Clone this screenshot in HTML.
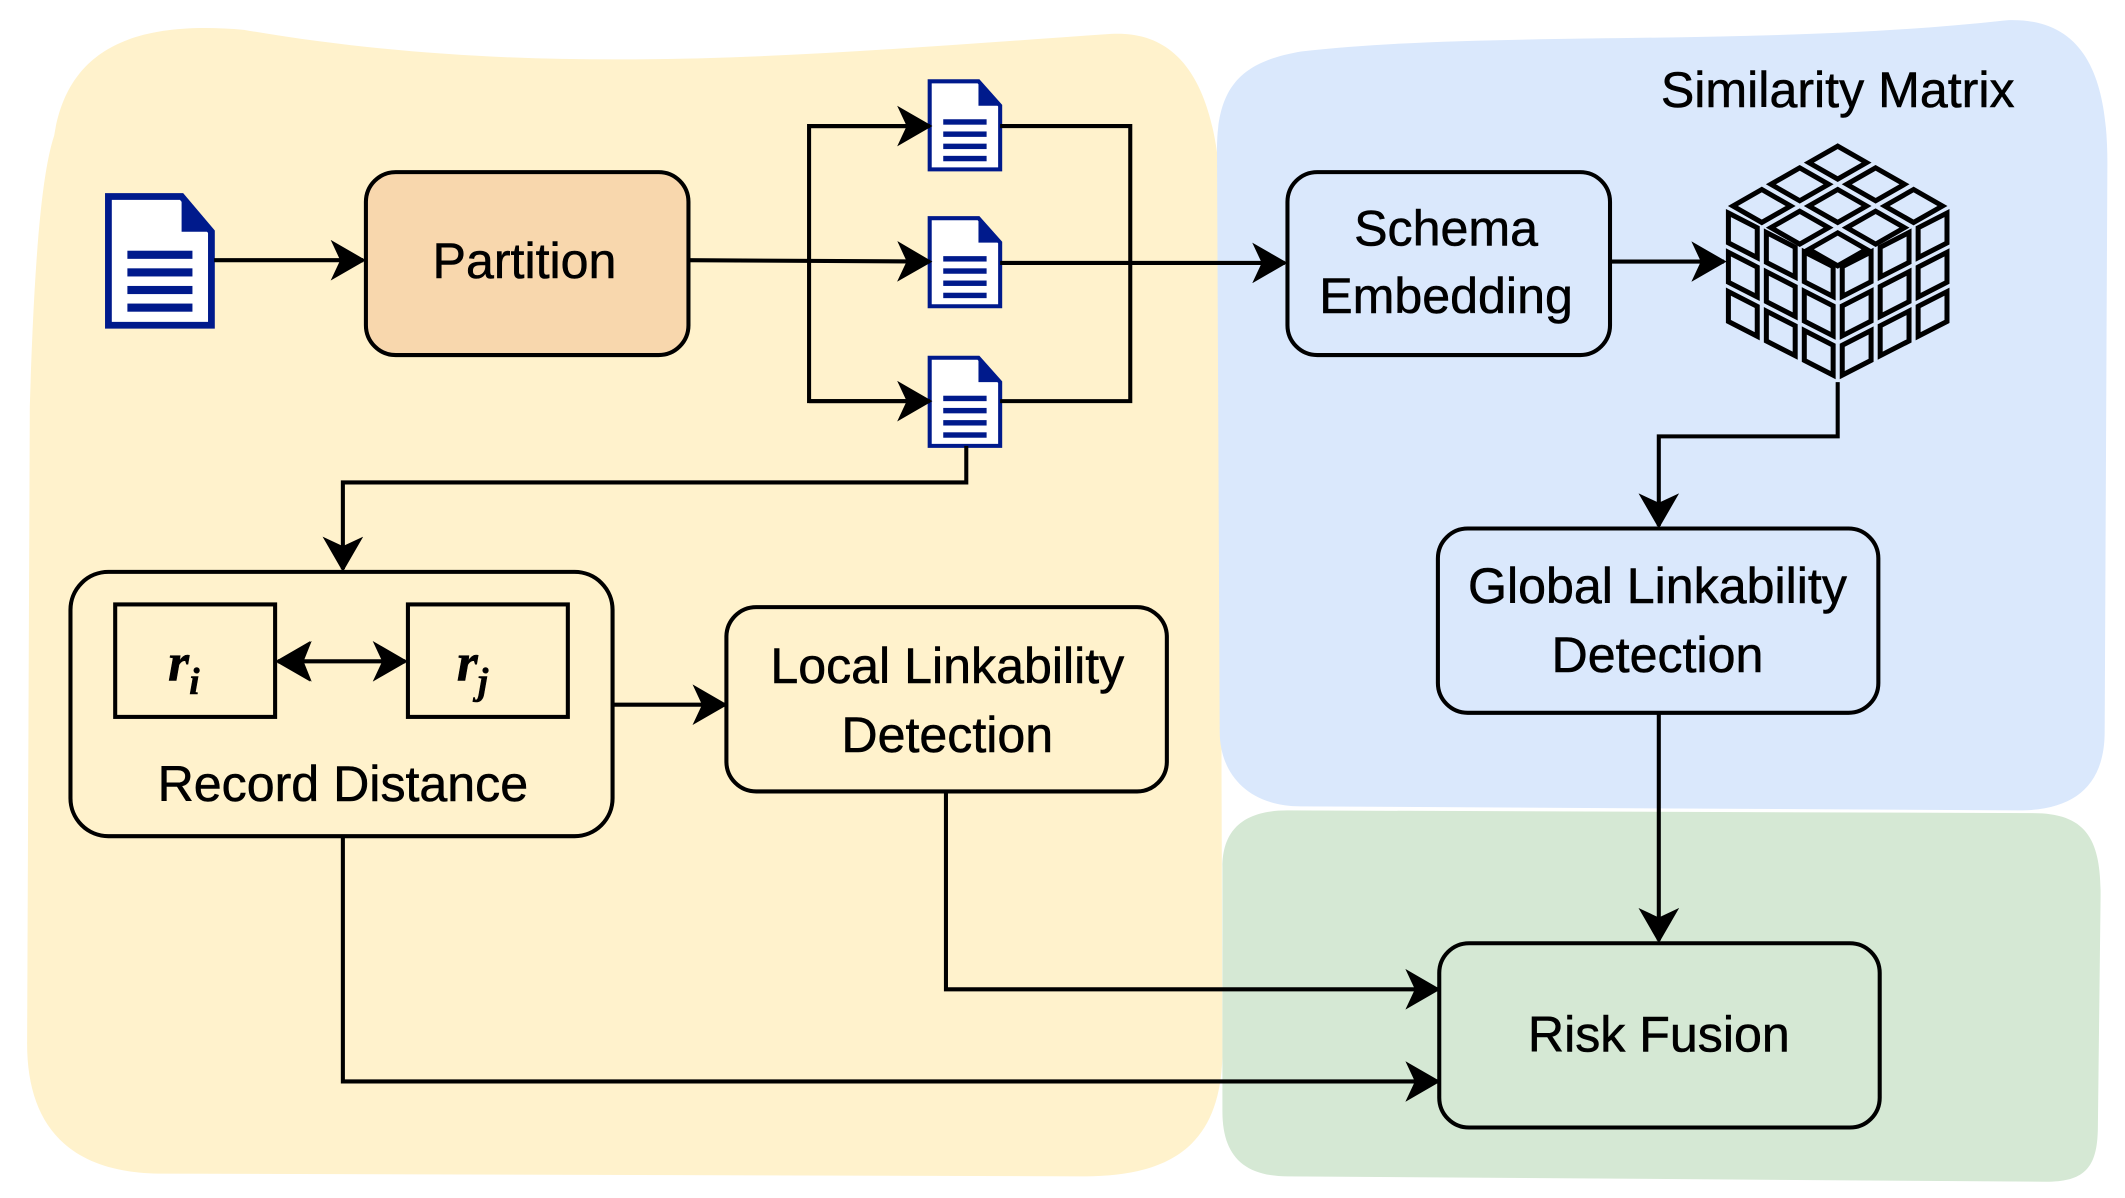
<!DOCTYPE html>
<html><head><meta charset="utf-8"><style>
html,body{margin:0;padding:0;background:#fff}
svg{display:block}
text{font-family:"Liberation Sans",Arial,sans-serif;font-size:37px;fill:#000;stroke:#000;stroke-width:0.4px}
</style></head><body>
<svg width="2125" height="1198" viewBox="0 0 1568 884" preserveAspectRatio="none" xmlns="http://www.w3.org/2000/svg">
<defs>
<marker id="a" viewBox="0 0 26 30" refX="24" refY="15" markerWidth="26" markerHeight="30" markerUnits="userSpaceOnUse" orient="auto-start-reverse">
<path d="M0,0 L26,15 L0,30 L7,15 Z" fill="#000"/>
</marker>
<marker id="b" viewBox="0 0 26 30" refX="24" refY="15" markerWidth="26" markerHeight="30" markerUnits="userSpaceOnUse" orient="auto">
<path d="M0,0 L26,15 L0,30 L7,15 Z" fill="#000"/>
</marker>
<g id="grid" fill="none" stroke="#000" stroke-width="5">
<rect x="0.12" y="0.12" width="0.76" height="0.76" vector-effect="non-scaling-stroke"/>
<rect x="1.12" y="0.12" width="0.76" height="0.76" vector-effect="non-scaling-stroke"/>
<rect x="2.12" y="0.12" width="0.76" height="0.76" vector-effect="non-scaling-stroke"/>
<rect x="0.12" y="1.12" width="0.76" height="0.76" vector-effect="non-scaling-stroke"/>
<rect x="1.12" y="1.12" width="0.76" height="0.76" vector-effect="non-scaling-stroke"/>
<rect x="2.12" y="1.12" width="0.76" height="0.76" vector-effect="non-scaling-stroke"/>
<rect x="0.12" y="2.12" width="0.76" height="0.76" vector-effect="non-scaling-stroke"/>
<rect x="1.12" y="2.12" width="0.76" height="0.76" vector-effect="non-scaling-stroke"/>
<rect x="2.12" y="2.12" width="0.76" height="0.76" vector-effect="non-scaling-stroke"/>
</g>
<g id="doc">
<path d="M0,0 L36,0 L52,18 L52,65 L0,65 Z" fill="#fff" stroke="#001a8c" stroke-width="3"/>
<path d="M36,0 L52,18 L36,18 Z" fill="#001a8c"/>
<rect x="10" y="28" width="32" height="4" fill="#001a8c"/>
<rect x="10" y="37" width="32" height="4" fill="#001a8c"/>
<rect x="10" y="46" width="32" height="4" fill="#001a8c"/>
<rect x="10" y="55" width="32" height="4" fill="#001a8c"/>
</g>
</defs>

<path d="M40,100 C50,35 100,15 180,22 C400,60 600,40 820,25 C875,22 895,70 900,130 L902,780 C900,840 870,868 800,868 L120,866 C50,866 20,830 20,770 L22,300 C25,200 30,130 40,100 Z" fill="#fff2cc"/>
<path d="M960,38 C1100,22 1300,35 1480,15 C1540,12 1555,60 1555,120 L1553,540 C1553,580 1530,598 1490,598 L960,595 C920,595 900,570 900,540 L898,110 C898,60 920,45 960,38 Z" fill="#dae8fc"/>
<path d="M950,598 L1500,600 C1540,600 1550,620 1550,660 L1548,830 C1548,860 1540,872 1510,872 L950,868 C915,868 902,850 902,820 L902,640 C902,610 920,598 950,598 Z" fill="#d5e8d4"/>

<g transform="translate(80,145)">
<path d="M0,0 L54,0 L76,26 L76,95 L0,95 Z" fill="#fff" stroke="#001a8c" stroke-width="5"/>
<path d="M54,0 L76,26 L54,26 Z" fill="#001a8c"/>
<rect x="14" y="40" width="48" height="6" fill="#001a8c"/>
<rect x="14" y="53" width="48" height="6" fill="#001a8c"/>
<rect x="14" y="66" width="48" height="6" fill="#001a8c"/>
<rect x="14" y="79" width="48" height="6" fill="#001a8c"/>
</g>
<use href="#doc" x="686" y="60"/>
<use href="#doc" x="686" y="161"/>
<use href="#doc" x="686" y="264"/>

<g fill="none" stroke="#000" stroke-width="3">
<line x1="158" y1="192" x2="268" y2="192" marker-end="url(#b)"/>
<line x1="508" y1="192" x2="686" y2="193" marker-end="url(#b)"/>
<polyline points="686,93 597,93 597,296 686,296"/>
<line x1="597" y1="93" x2="686" y2="93" marker-end="url(#b)"/>
<line x1="597" y1="296" x2="686" y2="296" marker-end="url(#b)"/>
<polyline points="738,93 834,93 834,296 738,296"/>
<line x1="738" y1="194" x2="948" y2="194" marker-end="url(#b)"/>
<line x1="1188" y1="193" x2="1272" y2="193" marker-end="url(#b)"/>
<polyline points="1356,282 1356,322 1224,322 1224,388" marker-end="url(#b)"/>
<line x1="1224" y1="526" x2="1224" y2="694" marker-end="url(#b)"/>
<polyline points="713,329 713,356 253,356 253,420" marker-end="url(#b)"/>
<line x1="452" y1="520" x2="535" y2="520" marker-end="url(#b)"/>
<polyline points="698,584 698,730 1061,730" marker-end="url(#b)"/>
<polyline points="253,617 253,798 1061,798" marker-end="url(#b)"/>
</g>

<g stroke="#000" stroke-width="3">
<rect x="270" y="127" width="238" height="135" rx="22" fill="#f8d7ad"/>
<rect x="950" y="127" width="238" height="135" rx="22" fill="#dae8fc"/>
<rect x="1061" y="390" width="325" height="136" rx="22" fill="#dae8fc"/>
<rect x="1062" y="696" width="325" height="136" rx="22" fill="#d5e8d4"/>
<rect x="52" y="422" width="400" height="195" rx="28" fill="#fff2cc"/>
<rect x="536" y="448" width="325" height="136" rx="22" fill="#fff2cc"/>
<rect x="85" y="446" width="118" height="83" fill="#fff2cc"/>
<rect x="301" y="446" width="118" height="83" fill="#fff2cc"/>
</g>
<line x1="205" y1="488" x2="299" y2="488" stroke="#000" stroke-width="3" marker-end="url(#a)" marker-start="url(#a)"/>
<path d="M230,473 L205,488 L230,503 L224,488 Z" fill="#000"/>

<use href="#grid" transform="matrix(-28 16 28 16 1356 104)"/>
<use href="#grid" transform="matrix(28 14.33 0 29 1272 152)"/>
<use href="#grid" transform="matrix(28 -14.33 0 29 1356 195)"/>

<g text-anchor="middle">
<text x="387" y="205">Partition</text>
<text x="1067" y="181">Schema</text>
<text x="1067" y="231">Embedding</text>
<text x="1356" y="79">Similarity Matrix</text>
<text x="1223" y="445">Global Linkability</text>
<text x="1223" y="496">Detection</text>
<text x="1224" y="776">Risk Fusion</text>
<text x="699" y="504">Local Linkability</text>
<text x="699" y="555">Detection</text>
<text x="253" y="591">Record Distance</text>
</g>
<text x="124" y="502" style="font-family:'Liberation Serif',serif;font-style:italic;font-weight:bold;font-size:40px">r<tspan dy="10" font-size="28">i</tspan></text>
<text x="337" y="502" style="font-family:'Liberation Serif',serif;font-style:italic;font-weight:bold;font-size:40px">r<tspan dy="10" font-size="28">j</tspan></text>
</svg>
</body></html>
